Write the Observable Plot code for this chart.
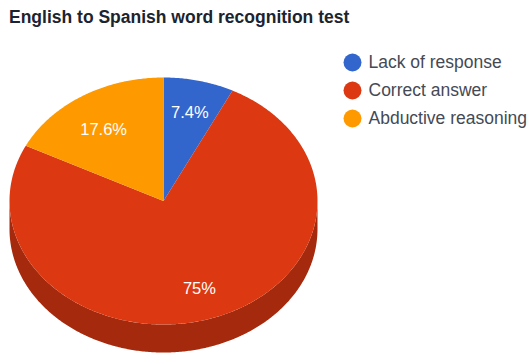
<!DOCTYPE html>
<html>
<head>
<meta charset="utf-8">
<script src="https://cdn.jsdelivr.net/npm/d3@7"></script>
<script src="https://cdn.jsdelivr.net/npm/@observablehq/plot@0.6"></script>
<style>
  html, body { margin: 0; background: #fff; }
  #title { height: 40px; box-sizing: border-box; padding: 7px 0 0 9px; font: bold 17.5px/20px "Liberation Sans", Arial, sans-serif; color: #1c2430; }
  svg { display: block; }
</style>
</head>
<body>
<div id="title"></div>
<div id="chart"></div>
<script>
const titleText = "English to Spanish word recognition test";
const categories = ["Lack of response", "Correct answer", "Abductive reasoning"];
const shares = [7.4, 75, 17.6];
const sliceLabels = ["7.4%", "75%", "17.6%"];
const sliceColors = ["#3366cc", "#dc3912", "#ff9900"];
const wallColor = "#a52a0d";

// Thickness of the pie, as a fraction of the vertical radius.
const thickness = 0.227;
const labelRadius = 0.74;
// The label in the orange slice sits a little lower than the others.
const labelNudge = [1, 1, 6];

document.getElementById("title").textContent = titleText;

const arcs = d3.pie().sort(null)(shares);
const onCircle = (angle, r = 1, drop = 0) => ({x: r * Math.sin(angle), y: r * Math.cos(angle) - drop});

// Walk an arc in small steps so the filled line reads as a smooth edge.
function arcPath(a0, a1, drop = 0) {
  const n = Math.ceil(Math.abs(a1 - a0) / 0.01);
  return d3.range(n + 1).map(i => onCircle(a0 + (a1 - a0) * i / n, 1, drop));
}

const slices = arcs.flatMap((arc, i) =>
  [{x: 0, y: 0}, ...arcPath(arc.startAngle, arc.endAngle), {x: 0, y: 0}]
    .map(p => ({...p, category: categories[i]}))
);

// Front wall: the lower half of the rim and the same rim moved down.
const wall = [
  ...arcPath(Math.PI / 2, 3 * Math.PI / 2),
  ...arcPath(3 * Math.PI / 2, Math.PI / 2, thickness)
];

const labelMarks = arcs.map((arc, i) =>
  Plot.text([onCircle((arc.startAngle + arc.endAngle) / 2, labelRadius)], {
    x: "x", y: "y", dy: labelNudge[i], text: () => sliceLabels[i], fill: "white", fontSize: 16.5,
    fontFamily: "Liberation Sans, Arial, sans-serif"
  })
);

const legendTop = 22, legendStep = 28;
const legendMarks = categories.flatMap((category, i) => [
  Plot.dot([category], {
    frameAnchor: "top-left", dx: 352, dy: legendTop + i * legendStep,
    r: 9, fill: d => d
  }),
  Plot.text([category], {
    frameAnchor: "top-left", dx: 368, dy: legendTop + i * legendStep,
    text: d => d, textAnchor: "start", lineAnchor: "middle",
    fontSize: 17.5, fill: "#444a55", fontFamily: "Liberation Sans, Arial, sans-serif"
  })
]);

const chart = Plot.plot({
  width: 530,
  height: 313,
  margin: 0,
  x: {domain: [-1, 1], range: [9, 317], axis: null},
  y: {domain: [-1, 1], range: [284, 37], axis: null},
  color: {domain: categories, range: sliceColors},
  marks: [
    Plot.line(wall, {x: "x", y: "y", fill: wallColor, stroke: "none"}),
    Plot.line(slices, {x: "x", y: "y", z: "category", fill: "category", stroke: "none"}),
    ...labelMarks,
    ...legendMarks
  ]
});
document.getElementById("chart").append(chart);
</script>
</body>
</html>
